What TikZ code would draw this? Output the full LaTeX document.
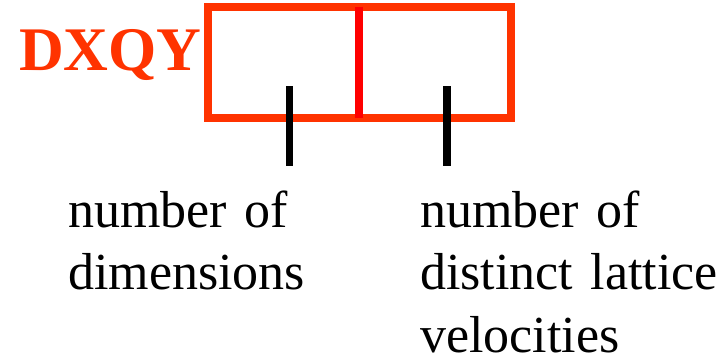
\documentclass[tikz,border=0pt]{standalone}
\usepackage{fontspec}
\setmainfont{Liberation Serif}
\usepackage{tikz}
\usetikzlibrary{positioning,calc}
\definecolor{boxred}{RGB}{255,51,0}
\definecolor{divred}{RGB}{255,0,0}
\tikzset{
  namebox/.style={draw=boxred, line width=8pt, minimum width=303.5pt, minimum height=111.5pt,
                  inner sep=0pt, outer sep=0pt},
  divline/.style={divred, line width=8pt},
  tickline/.style={black, line width=7.7pt},
  lbl/.style={inner sep=0pt, anchor=base west, align=left, text width=300pt,
              font=\fontsize{52}{62.8}\selectfont},
}

\begin{document}
\begin{tikzpicture}[x=1pt, y=-1pt]
  \useasboundingbox (0,0) rectangle (726,359);
  % --- the name and its box
  \node[inner sep=0pt, anchor=base west, text=boxred, font=\fontsize{62}{62}\selectfont\bfseries]
       (name) at (19,70) {DXQY};
  \node[namebox, anchor=north west] (box) at (207.5,6.5) {};
  \draw[divline] (box.north) -- (box.south);
  % --- ticks
  \coordinate (dtop) at (289.5,86);  \coordinate (dbot) at (289.5,166);
  \coordinate (qtop) at (447,86);    \coordinate (qbot) at (447,166);
  \draw[tickline] (dtop) -- (dbot);
  \draw[tickline] (qtop) -- (qbot);
  % --- labels
  \node[lbl] (dlbl) at (68,227) {number of\\ dimensions};
  \node[lbl] (qlbl) at (420,227) {number of\\ distinct lattice\\ velocities};
\end{tikzpicture}
\end{document}
